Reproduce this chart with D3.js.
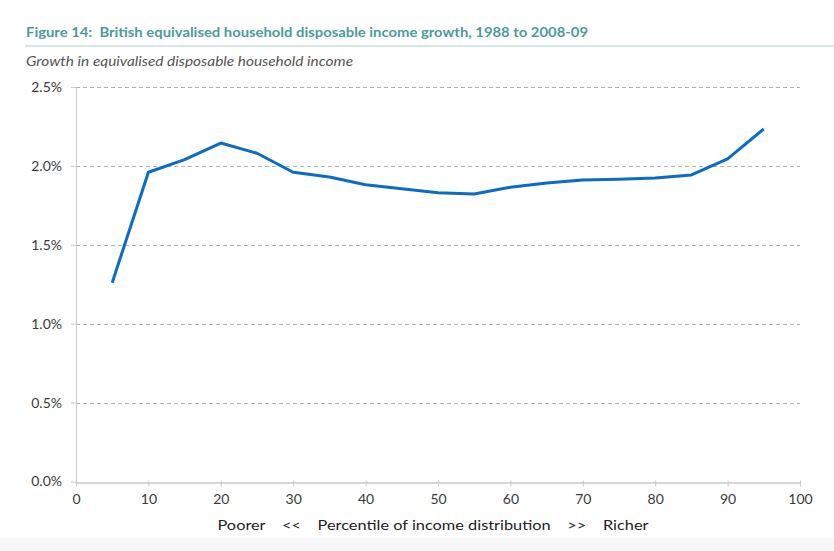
<!DOCTYPE html>
<html>
<head>
<meta charset="utf-8">
<script src="https://cdn.jsdelivr.net/npm/d3@7"></script>
<style>
  body { margin: 0; background: #fff; }
  svg { display: block; }
  text { white-space: pre; }
</style>
</head>
<body>
<div id="chart"></div>
<script>
// Figure 14: income growth by percentile
const percentiles = [5, 10, 15, 20, 25, 30, 35, 40, 45, 50, 55, 60, 65, 70, 75, 80, 85, 90, 95];
const growth = [1.26, 1.96, 2.04, 2.145, 2.08, 1.96, 1.93, 1.88, 1.855, 1.83, 1.822, 1.865, 1.892, 1.911, 1.915, 1.924, 1.943, 2.044, 2.234];
const yTicks = [0, 0.5, 1.0, 1.5, 2.0, 2.5];
const xTicks = [0, 10, 20, 30, 40, 50, 60, 70, 80, 90, 100];

const w = 834, h = 551;
const margin = { top: 87, right: 34, bottom: 69, left: 76 };
const font = "Lato, 'Open Sans', sans-serif";

const svg = d3.select("#chart").append("svg")
    .attr("width", w)
    .attr("height", h);

// light band at the bottom
svg.append("rect")
    .attr("x", 0).attr("y", 538)
    .attr("width", w).attr("height", h - 538)
    .attr("fill", "#f7f7f7");

svg.append("text")
    .attr("x", 26).attr("y", 37)
    .attr("fill", "#4a9c9c")
    .style("font-family", font)
    .style("font-size", "13px")
    .style("font-weight", "bold")
    .attr("textLength", 562)
    .attr("lengthAdjust", "spacingAndGlyphs")
    .text("Figure 14:  British equivalised household disposable income growth, 1988 to 2008-09");

svg.append("line")
    .attr("x1", 25).attr("x2", w)
    .attr("y1", 46).attr("y2", 46)
    .attr("stroke", "#d5e9e9")
    .attr("stroke-width", 2);

svg.append("text")
    .attr("x", 26).attr("y", 66)
    .attr("fill", "#555")
    .style("font-family", font)
    .style("font-size", "12.5px")
    .style("font-style", "italic")
    .attr("textLength", 327)
    .attr("lengthAdjust", "spacingAndGlyphs")
    .text("Growth in equivalised disposable household income");

const x = d3.scaleLinear().domain([0, 100]).range([margin.left, w - margin.right]);
const y = d3.scaleLinear().domain([0, 2.5]).range([h - margin.bottom - 0.5, margin.top]);

// gridlines
svg.append("g")
    .selectAll("line")
    .data(yTicks.filter(d => d > 0))
    .join("line")
    .attr("x1", x(0)).attr("x2", x(100))
    .attr("y1", d => Math.round(y(d)) + 0.5).attr("y2", d => Math.round(y(d)) + 0.5)
    .attr("stroke", "#b0b0b0")
    .attr("stroke-dasharray", "4,3");

// y axis
const yAxis = svg.append("g")
    .attr("transform", `translate(${x(0)},0)`)
    .call(d3.axisLeft(y).tickValues(yTicks).tickFormat(d => d.toFixed(1) + "%").tickSize(5).tickSizeOuter(0));
yAxis.select(".domain").attr("stroke", "#ccc");
yAxis.selectAll(".tick line").attr("stroke", "#ccc");
yAxis.selectAll(".tick text")
    .attr("x", -14)
    .attr("fill", "#3a3a3a")
    .style("font-family", font)
    .style("font-size", "14px");

// x axis
const xAxis = svg.append("g")
    .attr("transform", `translate(0,${Math.round(y(0)) + 0.5})`)
    .call(d3.axisBottom(x).tickValues(xTicks).tickSize(4).tickSizeOuter(0));
xAxis.select(".domain").attr("stroke", "#c8c8c8").attr("stroke-width", 1.5);
xAxis.selectAll(".tick line").attr("stroke", "#c8c8c8").attr("y1", -2);
xAxis.selectAll(".tick text")
    .attr("y", 12)
    .attr("fill", "#3a3a3a")
    .style("font-family", font)
    .style("font-size", "14px");

svg.append("text")
    .attr("x", 433).attr("y", 530)
    .attr("text-anchor", "middle")
    .attr("fill", "#222")
    .style("font-family", font)
    .style("font-size", "14px")
    .attr("textLength", 431)
    .attr("lengthAdjust", "spacingAndGlyphs")
    .text("Poorer    <<    Percentile of income distribution    >>    Richer");

const line = d3.line()
    .x((d, i) => x(percentiles[i]))
    .y(d => y(d));

svg.append("path")
    .datum(growth)
    .attr("d", line)
    .attr("fill", "none")
    .attr("stroke", "#0b6cc4")
    .attr("stroke-width", 3)
    .attr("stroke-linejoin", "round");
</script>
</body>
</html>
